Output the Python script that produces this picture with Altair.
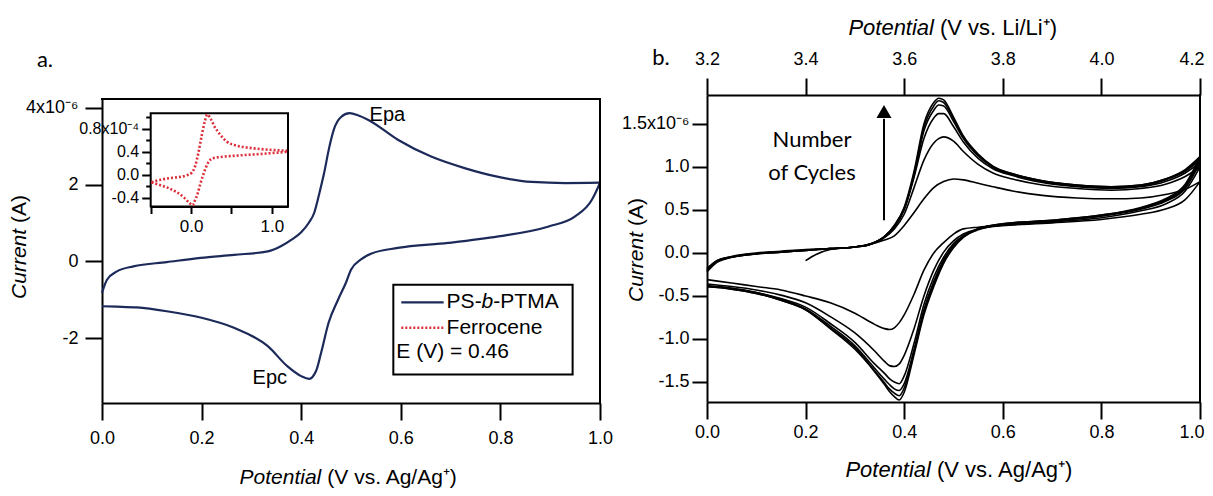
import altair as alt
import pandas as pd

FONT = "Liberation Sans"
FONT2 = "Lato"
NAVY = "#1c2a5a"
RED = "#dc2f3a"

# ---------------- data ----------------
# Panel a: PS-b-PTMA cyclic voltammogram, current in units of 1e-6 A
a_fwd_x = [0.0, 0.01, 0.03, 0.063, 0.13, 0.198, 0.265, 0.333, 0.36, 0.38, 0.40, 0.415, 0.426, 0.436,
           0.446, 0.456, 0.466, 0.48, 0.497, 0.515, 0.534, 0.594, 0.661, 0.728, 0.796, 0.863, 0.93, 1.0]
a_fwd_i = [-0.82, -0.48, -0.26, -0.13, -0.02, 0.09, 0.17, 0.26, 0.40, 0.56, 0.76, 1.0, 1.26, 1.75,
           2.30, 2.95, 3.45, 3.76, 3.86, 3.80, 3.69, 3.17, 2.73, 2.43, 2.20, 2.07, 2.04, 2.05]
a_rev_x = [0.0, 0.03, 0.07, 0.13, 0.2, 0.265, 0.333, 0.372, 0.40, 0.416, 0.43, 0.44, 0.455, 0.474,
           0.49, 0.50, 0.52, 0.54, 0.594, 0.695, 0.796, 0.897, 0.95, 0.984, 0.995, 1.0]
a_rev_i = [-1.17, -1.18, -1.20, -1.30, -1.47, -1.73, -2.21, -2.73, -2.99, -3.06, -2.85, -2.38, -1.60, -1.00,
           -0.55, -0.22, 0.05, 0.20, 0.35, 0.48, 0.65, 0.91, 1.17, 1.61, 1.90, 2.05]

# Inset: ferrocene, current in units of 1e-4 A
fc_fwd_x = [-0.49, -0.38, -0.26, -0.13, -0.05, 0.01, 0.05, 0.09, 0.13, 0.17, 0.20, 0.24, 0.29, 0.36,
            0.44, 0.56, 0.72, 0.93, 1.19]
fc_fwd_i = [-0.13, -0.086, -0.057, -0.034, -0.006, 0.04, 0.15, 0.38, 0.67, 0.93, 1.05, 0.98, 0.84, 0.70,
            0.58, 0.51, 0.47, 0.44, 0.42]
fc_rev_x = [-0.49, -0.38, -0.28, -0.18, -0.09, -0.02, 0.02, 0.04, 0.08, 0.12, 0.16, 0.21, 0.27, 0.36,
            0.52, 0.72, 0.93, 1.19]
fc_rev_i = [-0.13, -0.18, -0.23, -0.30, -0.39, -0.49, -0.53, -0.47, -0.33, -0.13, 0.04, 0.21, 0.29, 0.31,
            0.33, 0.35, 0.37, 0.40]

# Panel b: repeated cycles, current in units of 1e-6 A
b_fwd_x = [0.0, 0.02, 0.05, 0.1, 0.15, 0.2, 0.25, 0.3, 0.33, 0.36, 0.38, 0.40, 0.42, 0.44, 0.46, 0.47,
           0.48, 0.50, 0.52, 0.55, 0.58, 0.62, 0.68, 0.75, 0.82, 0.88, 0.93, 0.97, 1.0]
b_c1_fwd_x = [0.2, 0.22, 0.25, 0.3, 0.33, 0.36, 0.38, 0.40, 0.42, 0.44, 0.46, 0.48, 0.50, 0.52, 0.55,
              0.58, 0.62, 0.68, 0.75, 0.82, 0.88, 0.93, 0.97, 1.0]
b_c1_fwd = [-0.09, -0.02, 0.04, 0.07, 0.10, 0.15, 0.20, 0.32, 0.47, 0.63, 0.76, 0.83, 0.86, 0.85, 0.81,
            0.77, 0.72, 0.67, 0.64, 0.63, 0.64, 0.68, 0.74, 0.83]
b_c2_fwd = [-0.18, -0.09, -0.04, 0.0, 0.02, 0.04, 0.05, 0.07, 0.10, 0.18, 0.28, 0.45, 0.76, 1.08, 1.28,
            1.33, 1.35, 1.30, 1.18, 1.03, 0.93, 0.86, 0.79, 0.75, 0.73, 0.75, 0.80, 0.89, 1.00]
b_c3_fwd = [-0.19, -0.09, -0.045, -0.005, 0.015, 0.035, 0.05, 0.07, 0.10, 0.19, 0.30, 0.50, 0.88, 1.33,
            1.57, 1.62, 1.62, 1.47, 1.29, 1.10, 0.98, 0.90, 0.82, 0.77, 0.75, 0.77, 0.83, 0.93, 1.05]
b_c4_fwd = [-0.20, -0.10, -0.05, -0.01, 0.01, 0.03, 0.05, 0.07, 0.10, 0.19, 0.31, 0.51, 0.90, 1.42,
            1.66, 1.72, 1.71, 1.53, 1.33, 1.13, 1.00, 0.91, 0.83, 0.78, 0.76, 0.78, 0.85, 0.95, 1.08]
b_c5_fwd = [-0.21, -0.10, -0.05, -0.01, 0.01, 0.03, 0.05, 0.07, 0.10, 0.19, 0.32, 0.52, 0.92, 1.46,
            1.71, 1.77, 1.75, 1.56, 1.35, 1.14, 1.00, 0.92, 0.84, 0.79, 0.77, 0.79, 0.86, 0.96, 1.10]
b_c6_fwd = [-0.22, -0.11, -0.05, -0.01, 0.01, 0.03, 0.05, 0.07, 0.10, 0.19, 0.32, 0.53, 0.95, 1.50,
            1.75, 1.80, 1.78, 1.58, 1.36, 1.15, 1.01, 0.92, 0.84, 0.79, 0.77, 0.79, 0.86, 0.97, 1.12]

b_rev_x = [1.0, 0.97, 0.93, 0.88, 0.8, 0.7, 0.6, 0.55, 0.52, 0.50, 0.48, 0.46, 0.44, 0.42, 0.40, 0.39,
           0.38, 0.37, 0.36, 0.34, 0.3, 0.25, 0.2, 0.15, 0.1, 0.05, 0.0]
b_c1_rev = [0.83, 0.62, 0.51, 0.45, 0.39, 0.35, 0.32, 0.30, 0.28, 0.22, 0.12, 0.0, -0.20, -0.48, -0.72,
            -0.81, -0.87, -0.89, -0.88, -0.83, -0.70, -0.58, -0.50, -0.43, -0.39, -0.35, -0.31]
b_c2_rev = [1.00, 0.72, 0.57, 0.49, 0.41, 0.36, 0.32, 0.28, 0.22, 0.14, 0.01, -0.20, -0.50, -0.88, -1.19,
            -1.29, -1.32, -1.31, -1.26, -1.14, -0.93, -0.74, -0.58, -0.49, -0.43, -0.39, -0.36]
b_c3_rev = [1.05, 0.75, 0.60, 0.51, 0.43, 0.37, 0.33, 0.28, 0.20, 0.11, -0.05, -0.28, -0.60, -1.05, -1.43,
            -1.52, -1.50, -1.46, -1.40, -1.29, -1.04, -0.82, -0.63, -0.53, -0.46, -0.41, -0.38]
b_c4_rev = [1.08, 0.77, 0.61, 0.52, 0.43, 0.37, 0.33, 0.27, 0.19, 0.09, -0.08, -0.33, -0.66, -1.12, -1.52,
            -1.60, -1.58, -1.53, -1.47, -1.34, -1.08, -0.85, -0.65, -0.54, -0.46, -0.41, -0.39]
b_c5_rev = [1.10, 0.78, 0.62, 0.52, 0.44, 0.38, 0.34, 0.28, 0.19, 0.08, -0.10, -0.36, -0.69, -1.15, -1.57,
            -1.66, -1.63, -1.58, -1.51, -1.37, -1.10, -0.87, -0.66, -0.55, -0.47, -0.42, -0.39]
b_c6_rev = [1.12, 0.80, 0.63, 0.53, 0.44, 0.38, 0.34, 0.28, 0.18, 0.06, -0.12, -0.39, -0.72, -1.18, -1.62,
            -1.71, -1.67, -1.61, -1.53, -1.38, -1.12, -0.88, -0.66, -0.55, -0.47, -0.42, -0.39]

# tick values / labels
a_xticks = [0.0, 0.2, 0.4, 0.6, 0.8, 1.0]
a_yticks = [-2, 0, 2, 4]
inset_xticks = [-0.5, 0.0, 0.5, 1.0]
inset_yticks = [1.0, 0.8, 0.6, 0.4, 0.2, 0.0, -0.2, -0.4]
b_xticks = [0.0, 0.2, 0.4, 0.6, 0.8, 1.0]
b_yticks = [-1.5, -1.0, -0.5, 0.0, 0.5, 1.0, 1.5]
li_ticks = [3.2, 3.4, 3.6, 3.8, 4.0, 4.2]

# ---------------- tables ----------------
def rows(xs, ys, key):
    return [{"x": x, "i": y, "k": key} for x, y in zip(xs, ys)]

df_a = pd.DataFrame(rows(a_fwd_x, a_fwd_i, "f") + rows(a_rev_x, a_rev_i, "r"))
df_fc = pd.DataFrame(rows(fc_fwd_x, fc_fwd_i, "f") + rows(fc_rev_x, fc_rev_i, "r"))
b_rows = rows(b_c1_fwd_x, b_c1_fwd, "c1f")
for n, (f, r) in enumerate([(None, b_c1_rev), (b_c2_fwd, b_c2_rev), (b_c3_fwd, b_c3_rev),
                            (b_c4_fwd, b_c4_rev), (b_c5_fwd, b_c5_rev), (b_c6_fwd, b_c6_rev)], start=1):
    if f is not None:
        b_rows += rows(b_fwd_x, f, f"c{n}f")
    b_rows += rows(b_rev_x, r, f"c{n}r")
df_b = pd.DataFrame(b_rows)
df_li = pd.DataFrame({"li": li_ticks})
ONE = pd.DataFrame({"_": [0]})

# ---------------- helpers ----------------
def XD(v, sc):
    return alt.XDatum(v, type="quantitative", scale=sc, axis=None)

def YD(v, sc):
    return alt.YDatum(v, type="quantitative", scale=sc, axis=None)

def txt_px(s, x, y, size, style="normal", align="center", font=FONT, angle=0, dx=0):
    return alt.Chart(ONE).mark_text(text=s, fontSize=size, fontStyle=style, align=align, dx=dx,
                                    baseline="middle", font=font, angle=angle, color="black").encode(
        x=alt.value(x), y=alt.value(y))

def txt_dt(s, x, y, xs, ys, size, style="normal", align="center", dx=0, font=FONT):
    return alt.Chart(ONE).mark_text(text=s, fontSize=size, fontStyle=style, align=align,
                                    baseline="middle", font=font, dx=dx, color="black").encode(
        x=XD(x, xs), y=YD(y, ys))

AX = dict(grid=False, domainColor="black", tickColor="black", labelColor="black", labelFont=FONT,
          domainWidth=2, tickWidth=2, labelFlush=False, title=None)

def end_align(v):
    # keep the last label of the right panel inside the page
    return dict(
        labelAlign={"condition": {"test": f"datum.value == {v}", "value": "right"}, "value": "center"},
        labelOffset={"condition": {"test": f"datum.value == {v}", "value": 4}, "value": 0},
    )

# ---------------- panel a ----------------
A_W, A_H = 498, 308
A_YDOM = [-3.69, 4.23]
xa = alt.Scale(domain=[0, 1], nice=False, zero=False)
ya = alt.Scale(domain=A_YDOM, range=[A_H, 4], nice=False, zero=False)

line_a = alt.Chart(df_a).mark_line(color=NAVY, strokeWidth=2.2, interpolate="monotone").encode(
    x=alt.X("x:Q", scale=xa, axis=alt.Axis(values=a_xticks, format=".1f", tickSize=17,
                                           labelFontSize=18, labelPadding=9, **AX)),
    y=alt.Y("i:Q", scale=ya, axis=alt.Axis(
        values=a_yticks, tickSize=17, labelFontSize=18, labelPadding=7,
        labelExpr="datum.value == 4 ? '4x10⁻⁶' : datum.value == 2 ? '2' : datum.value == 0 ? '0' : '-2'",
        **AX)),
    detail="k:N",
    order=alt.Order("x:Q"),
)
frame_top_a = alt.Chart(ONE).mark_rule(color="black", strokeWidth=2, strokeCap="square").encode(
    x=XD(0, xa), x2=alt.X2Datum(1), y=YD(A_YDOM[1], ya))
frame_right_a = alt.Chart(ONE).mark_rule(color="black", strokeWidth=2, strokeCap="square").encode(
    x=XD(1, xa), y=YD(A_YDOM[0], ya), y2=alt.Y2Datum(A_YDOM[1]))

# legend box (in data coordinates)
leg_box = alt.Chart(ONE).mark_rect(fill="white", stroke="black", strokeWidth=2).encode(
    x=XD(0.585, xa), x2=alt.X2Datum(0.945), y=YD(-0.61, ya), y2=alt.Y2Datum(-2.95))
leg_l1 = alt.Chart(ONE).mark_rule(color=NAVY, strokeWidth=2.2).encode(
    x=XD(0.601, xa), x2=alt.X2Datum(0.686), y=YD(-1.07, ya))
leg_l2 = alt.Chart(ONE).mark_rule(color=RED, strokeWidth=2.5, strokeDash=[2, 2]).encode(
    x=XD(0.601, xa), x2=alt.X2Datum(0.686), y=YD(-1.73, ya))

# inset (own scales mapped into a sub-rectangle of panel a)
I_XDOM = [-0.5, 1.2]
I_YDOM = [-0.55, 1.07]
xi = alt.Scale(domain=I_XDOM, range=[48.7, 186], nice=False, zero=False)
yi = alt.Scale(domain=I_YDOM, range=[111.5, 18.3], nice=False, zero=False)
inset_box = alt.Chart(ONE).mark_rect(fill="white", stroke="black", strokeWidth=2).encode(
    x=XD(I_XDOM[0], xi), x2=alt.X2Datum(I_XDOM[1]), y=YD(I_YDOM[0], yi), y2=alt.Y2Datum(I_YDOM[1]))
inset_line = alt.Chart(df_fc).mark_line(color=RED, strokeWidth=2.6, strokeDash=[2, 2],
                                        interpolate="monotone").encode(
    x=alt.X("x:Q", scale=xi, axis=alt.Axis(
        orient="bottom", offset=-(A_H - 111.5), values=inset_xticks, tickSize=7, labelFontSize=17,
        labelPadding=5,
        labelExpr="datum.value == 0 ? '0.0' : datum.value == 1 ? '1.0' : ''", **AX)),
    y=alt.Y("i:Q", scale=yi, axis=alt.Axis(
        orient="left", offset=-48.7, values=inset_yticks,
        tickSize={"condition": {"test": "datum.value == 0.8 || datum.value == 0.4 || datum.value == 0 || datum.value == -0.4",
                                "value": 9}, "value": 5},
        labelFontSize=16, labelPadding=3,
        labelExpr="datum.value == 0.8 ? '0.8x10⁻⁴' : datum.value == 0.4 ? '0.4' : datum.value == 0 ? '0.0' : datum.value == -0.4 ? '-0.4' : ''",
        **AX)),
    detail="k:N",
    order=alt.Order("x:Q"),
)

panel_a = alt.layer(
    line_a, frame_top_a, frame_right_a, leg_box, leg_l1, leg_l2,
    txt_dt("PS-", 0.692, -1.07, xa, ya, 21, align="left"),
    txt_dt("b", 0.692, -1.07, xa, ya, 21, style="italic", align="left", dx=35.0),
    txt_dt("-PTMA", 0.692, -1.07, xa, ya, 21, align="left", dx=46.7),
    txt_dt("Ferrocene", 0.692, -1.73, xa, ya, 21, align="left"),
    txt_dt("E (V) = 0.46", 0.591, -2.37, xa, ya, 21, align="left"),
    txt_dt("Epa", 0.573, 3.82, xa, ya, 20),
    txt_dt("Epc", 0.337, -3.03, xa, ya, 20),
    txt_px("Current", -82, 133.9, 21, style="italic", align="right", angle=270),
    txt_px("(A)", -82, 133.9, 21, align="left", angle=270, dx=6),
    txt_px("Potential", 219.3, 383, 21, style="italic", align="right"),
    txt_px("(V vs. Ag/Ag⁺)", 219.3, 383, 21, align="left", dx=6),
    txt_px("a.", -57, -35, 22, font=FONT2),
    inset_box, inset_line,
).resolve_scale(x="independent", y="independent").properties(width=A_W, height=A_H)

# ---------------- panel b ----------------
B_W, B_H = 493, 307
B_YDOM = [-1.733, 1.837]
xb = alt.Scale(domain=[0, 1], nice=False, zero=False)
yb = alt.Scale(domain=B_YDOM, nice=False, zero=False)

line_b = alt.Chart(df_b).mark_line(color="black", strokeWidth=1.6, interpolate="monotone").encode(
    x=alt.X("x:Q", scale=xb, axis=alt.Axis(values=b_xticks, format=".1f", tickSize=17,
                                           labelFontSize=18, labelPadding=4, **end_align(1), **AX)),
    y=alt.Y("i:Q", scale=yb, axis=alt.Axis(
        values=b_yticks, tickSize=15, labelFontSize=18, labelPadding=3,
        labelExpr="datum.value == 1.5 ? '1.5x10⁻⁶' : replace(format(datum.value, '.1f'), '−', '-')",
        **AX)),
    detail="k:N",
    order=alt.Order("x:Q"),
)
frame_right_b = alt.Chart(ONE).mark_rule(color="black", strokeWidth=2, strokeCap="square").encode(
    x=XD(1, xb), y=YD(B_YDOM[0], yb), y2=alt.Y2Datum(B_YDOM[1]))
arrow_shaft = alt.Chart(ONE).mark_rule(color="black", strokeWidth=2).encode(
    x=XD(0.359, xb), y=YD(0.38, yb), y2=alt.Y2Datum(1.56))
arrow_head = alt.Chart(ONE).mark_point(shape="triangle-up", filled=True, color="black", size=225,
                                       opacity=1).encode(
    x=XD(0.359, xb), y=YD(1.645, yb))
top_b = alt.Chart(df_li).mark_point(opacity=0).encode(
    x=alt.X("li:Q", scale=alt.Scale(domain=[3.2, 4.2], nice=False, zero=False),
            axis=alt.Axis(orient="top", values=li_ticks, format=".1f", tickSize=17, labelFontSize=18,
                          labelPadding=10, **end_align(4.2), **AX)))

panel_b = alt.layer(
    line_b, frame_right_b, arrow_shaft, arrow_head,
    txt_dt("Number", 0.213, 1.31, xb, yb, 22, font=FONT2),
    txt_dt("of Cycles", 0.213, 0.93, xb, yb, 22, font=FONT2),
    txt_px("Current", -70, 137, 21, style="italic", align="right", angle=270),
    txt_px("(A)", -70, 137, 21, align="left", angle=270, dx=6),
    txt_px("Potential", 224, 375, 22, style="italic", align="right"),
    txt_px("(V vs. Ag/Ag⁺)", 224, 375, 22, align="left", dx=6),
    txt_px("Potential", 227, -67, 22, style="italic", align="right"),
    txt_px("(V vs. Li/Li⁺)", 227, -67, 22, align="left", dx=6),
    txt_px("b.", -46, -37, 22, font=FONT2),
    top_b,
).resolve_scale(x="independent", y="independent").properties(width=B_W, height=B_H)

chart = alt.hconcat(panel_a, panel_b, spacing=107, bounds="flush").properties(
    autosize=alt.AutoSizeParams(type="none"),
    padding={"left": 94, "top": 87, "right": 1103, "bottom": 393},
    background="white",
).configure_view(stroke=None)

chart.save("out.html", embed_options={"renderer": "svg", "actions": False})
